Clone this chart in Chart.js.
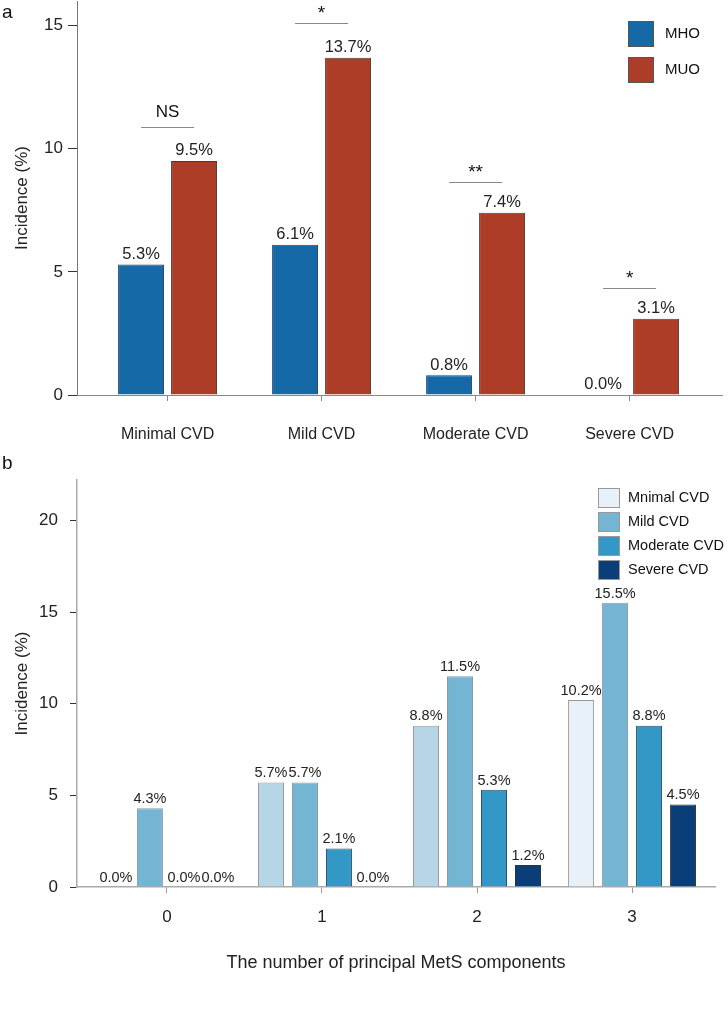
<!DOCTYPE html>
<html>
<head>
<meta charset="utf-8">
<script src="https://cdn.jsdelivr.net/npm/chart.js@4.4.0/dist/chart.umd.min.js"></script>
<style>
  body { margin: 0; background: #fff; width: 728px; height: 1016px; position: relative; overflow: hidden;
         font-family: "Liberation Sans", Arial, sans-serif; }
  .wrap { position: absolute; left: 0; width: 728px; }
  #wa { top: 0; height: 450px; }
  #wb { top: 450px; height: 566px; }
  .panel { position: absolute; left: 2px; font-size: 19px; color: #111; line-height: 20px; }
</style>
</head>
<body>
<div class="wrap" id="wa"><canvas id="chartA"></canvas></div>
<div class="wrap" id="wb"><canvas id="chartB"></canvas></div>
<div class="panel" style="top:2px">a</div>
<div class="panel" style="top:453px">b</div>

<script>
// pannello a: incidenza per gruppo
const catsA = ["Minimal CVD", "Mild CVD", "Moderate CVD", "Severe CVD"];
const mho = [5.3, 6.1, 0.8, 0.0];
const muo = [9.5, 13.7, 7.4, 3.1];
const sigLevel = [10.9, 15.1, 8.65, 4.35];
const sigText = ["NS", "*", "**", "*"];
const yTicksA = [0, 5, 10, 15];

// pannello b: numero di componenti
const catsB = ["0", "1", "2", "3"];
const seriesB = ["Mnimal CVD", "Mild CVD", "Moderate CVD", "Severe CVD"];
const minimalCvd = [0.0, 5.7, 8.8, 10.2];
const mildCvd = [4.3, 5.7, 11.5, 15.5];
const moderateCvd = [0.0, 2.1, 5.3, 8.8];
const severeCvd = [0.0, 0.0, 1.2, 4.5];
const yTicksB = [0, 5, 10, 15, 20];

const FONT = '"Liberation Sans", Arial, sans-serif';
Chart.defaults.font.family = FONT;
Chart.defaults.color = "#222";
Chart.defaults.animation = false;

function toXY(arr) {
  return arr.map((v, i) => ({ x: i, y: v }));
}

// etichette sopra le barre
function barLabels(size) {
  return {
    id: "barLabels",
    afterDatasetsDraw(chart) {
      const ctx = chart.ctx;
      ctx.save();
      ctx.font = size + "px " + FONT;
      ctx.fillStyle = "#222";
      ctx.textAlign = "center";
      ctx.textBaseline = "bottom";
      chart.data.datasets.forEach((ds, d) => {
        chart.getDatasetMeta(d).data.forEach((el, i) => {
          ctx.fillText(ds.data[i].y.toFixed(1) + "%", el.x, el.y - 2);
        });
      });
      ctx.restore();
    }
  };
}

const sigPlugin = {
  id: "sig",
  afterDatasetsDraw(chart) {
    const ctx = chart.ctx;
    const y = chart.scales.y;
    const m0 = chart.getDatasetMeta(0).data;
    const m1 = chart.getDatasetMeta(1).data;
    ctx.save();
    sigLevel.forEach((lv, i) => {
      const py = Math.round(y.getPixelForValue(lv)) + 0.5;
      ctx.strokeStyle = "#888";
      ctx.lineWidth = 1;
      ctx.beginPath();
      ctx.moveTo(m0[i].x, py);
      ctx.lineTo(m1[i].x, py);
      ctx.stroke();
      ctx.fillStyle = "#111";
      ctx.textAlign = "center";
      ctx.textBaseline = "alphabetic";
      const cx = (m0[i].x + m1[i].x) / 2;
      if (sigText[i] === "NS") {
        ctx.font = "17px " + FONT;
        ctx.fillText(sigText[i], cx, py - 11);
      } else {
        ctx.font = "19px " + FONT;
        ctx.fillText(sigText[i], cx, py - 5);
      }
    });
    ctx.restore();
  }
};

const legendA = {
  id: "legendA",
  afterDraw(chart) {
    const ctx = chart.ctx;
    const cols = ["#1569a6", "#ae3d28"];
    const names = ["MHO", "MUO"];
    ctx.save();
    ctx.font = "15px " + FONT;
    ctx.textBaseline = "middle";
    names.forEach((n, i) => {
      const top = 21 + i * 36;
      ctx.fillStyle = cols[i];
      ctx.fillRect(628, top, 26, 26);
      ctx.strokeStyle = "#555";
      ctx.lineWidth = 1;
      ctx.strokeRect(628.5, top + 0.5, 25, 25);
      ctx.fillStyle = "#111";
      ctx.fillText(n, 665, top + 13);
    });
    ctx.restore();
  }
};

const legendB = {
  id: "legendB",
  afterDraw(chart) {
    const ctx = chart.ctx;
    const cols = ["#e8f0f8", "#75b5d4", "#3498c7", "#0a3e78"];
    ctx.save();
    ctx.font = "14.5px " + FONT;
    ctx.textBaseline = "middle";
    seriesB.forEach((n, i) => {
      const top = 38 + i * 24;
      ctx.fillStyle = cols[i];
      ctx.fillRect(598, top, 22, 20);
      ctx.strokeStyle = "#999";
      ctx.lineWidth = 1;
      ctx.strokeRect(598.5, top + 0.5, 21, 19);
      ctx.fillStyle = "#111";
      ctx.fillText(n, 628, top + 10);
    });
    ctx.restore();
  }
};

function noZeroBorder(w) {
  return c => (c.raw && c.raw.y === 0 ? 0 : w);
}

// grafico a
new Chart(document.getElementById("chartA"), {
  type: "bar",
  data: {
    datasets: [
      { label: "MHO", data: toXY(mho), backgroundColor: "#1569a6", borderColor: "#22405e",
        borderWidth: noZeroBorder(1), borderSkipped: "bottom" },
      { label: "MUO", data: toXY(muo), backgroundColor: "#ae3d28", borderColor: "#4a3a36",
        borderWidth: noZeroBorder(1), borderSkipped: "bottom" }
    ]
  },
  options: {
    responsive: true,
    maintainAspectRatio: false,
    layout: { padding: { top: 1, right: 6, left: 0, bottom: 0 } },
    categoryPercentage: 0.688,
    barPercentage: 0.868,
    plugins: { legend: { display: false }, tooltip: { enabled: false } },
    scales: {
      x: {
        type: "linear",
        offset: false,
        min: -0.588,
        max: 3.6,
        afterBuildTicks: s => { s.ticks = catsA.map((c, i) => ({ value: i })); },
        afterFit: s => { s.height = 55; },
        ticks: { callback: v => catsA[v], font: { size: 16 }, color: "#222", padding: 24,
                 autoSkip: false, maxRotation: 0 },
        grid: { offset: false, drawOnChartArea: false, drawTicks: true, tickLength: 6, color: "#888" },
        border: { color: "#888", width: 1 }
      },
      y: {
        min: 0,
        max: 16,
        afterBuildTicks: s => { s.ticks = yTicksA.map(v => ({ value: v })); },
        afterFit: s => { s.width = 77; s.paddingTop = 0; s.paddingBottom = 0; },
        ticks: { font: { size: 17 }, color: "#222", padding: 5 },
        grid: { drawOnChartArea: false, drawTicks: true, tickLength: 9, color: "#333" },
        border: { color: "#777", width: 1 },
        title: { display: true, text: "Incidence (%)", font: { size: 17 }, color: "#222",
                 padding: { top: 12, bottom: 0 } }
      }
    }
  },
  plugins: [barLabels(16.5), sigPlugin, legendA]
});

// grafico b
new Chart(document.getElementById("chartB"), {
  type: "bar",
  data: {
    datasets: [
      { label: seriesB[0], data: toXY(minimalCvd),
        backgroundColor: ["#b6d5e7", "#b6d5e7", "#b6d5e7", "#e8f0f8"], borderColor: "#9a9a9a",
        borderWidth: noZeroBorder(1), borderSkipped: "bottom" },
      { label: seriesB[1], data: toXY(mildCvd), backgroundColor: "#75b5d4", borderColor: "#8a9aa4",
        borderWidth: noZeroBorder(1), borderSkipped: "bottom" },
      { label: seriesB[2], data: toXY(moderateCvd), backgroundColor: "#3498c7", borderColor: "#2b5468",
        borderWidth: noZeroBorder(1), borderSkipped: "bottom" },
      { label: seriesB[3], data: toXY(severeCvd), backgroundColor: "#0a3e78", borderColor: "#333",
        borderWidth: noZeroBorder(1), borderSkipped: "bottom" }
    ]
  },
  options: {
    responsive: true,
    maintainAspectRatio: false,
    layout: { padding: { top: 30, right: 13, left: 0, bottom: 0 } },
    categoryPercentage: 0.877,
    barPercentage: 0.765,
    plugins: { legend: { display: false }, tooltip: { enabled: false } },
    scales: {
      x: {
        type: "linear",
        offset: false,
        min: -0.58,
        max: 3.535,
        afterBuildTicks: s => { s.ticks = catsB.map((c, i) => ({ value: i })); },
        afterFit: s => { s.height = 129; },
        ticks: { callback: v => catsB[v], font: { size: 17 }, color: "#222", padding: 14,
                 autoSkip: false, maxRotation: 0 },
        grid: { offset: false, drawOnChartArea: false, drawTicks: true, tickLength: 6, color: "#999" },
        border: { color: "#aaa", width: 1.5 },
        title: { display: true, text: "The number of principal MetS components", font: { size: 18 },
                 color: "#222", padding: { top: 0, bottom: 42 } }
      },
      y: {
        min: 0,
        max: 22.2,
        afterBuildTicks: s => { s.ticks = yTicksB.map(v => ({ value: v })); },
        afterFit: s => { s.width = 77; s.paddingTop = 0; s.paddingBottom = 0; },
        ticks: { font: { size: 17 }, color: "#222", padding: 12 },
        grid: { drawOnChartArea: false, drawTicks: true, tickLength: 7, color: "#333" },
        border: { color: "#aaa", width: 1.5 },
        title: { display: true, text: "Incidence (%)", font: { size: 17 }, color: "#222",
                 padding: { top: 12, bottom: 0 } }
      }
    }
  },
  plugins: [barLabels(14.5), legendB]
});
</script>
</body>
</html>
